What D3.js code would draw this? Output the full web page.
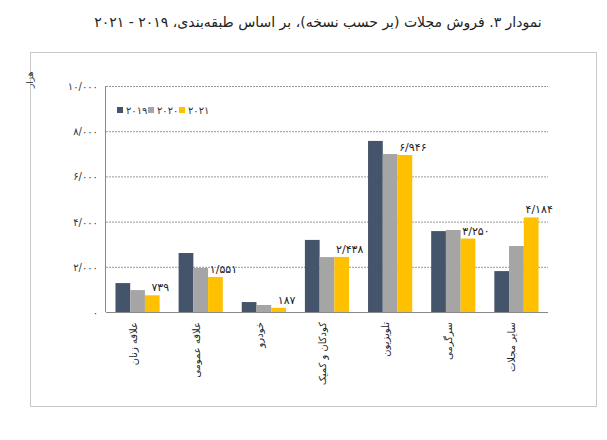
<!DOCTYPE html>
<html><head><meta charset="utf-8">
<script src="https://cdn.jsdelivr.net/npm/d3@7"></script>
<style>body{margin:0;background:#fff;font-family:"DejaVu Sans",sans-serif}</style>
</head><body>
<script>
var categories = ["علاقه زنان","علاقه عمومی","خودرو","کودکان و کمیک","تلویزیون","سرگرمی","سایر مجلات"];
var years = ["2019","2020","2021"];
var v2019 = [1280,2610,440,3190,7570,3580,1810];
var v2020 = [970,1950,310,2430,6990,3630,2920];
var v2021 = [739,1551,187,2438,6946,3250,4184];
var ticks = [0,2000,4000,6000,8000,10000];
var colors = ["#44546a","#a5a5a5","#ffc000"];
var series = [v2019,v2020,v2021];

function digits(s){
    return String(s).replace(/[0-9]/g, function(d){ return "۰۱۲۳۴۵۶۷۸۹"[+d]; });
}
function fa(n){
    return digits(d3.format(",")(n).replace(/,/g,"/"));
}

var svg = d3.select("body").append("svg").attr("width",607).attr("height",440)

svg.append("text").attr("x",318).attr("y",27).attr("text-anchor","middle")
    .attr("font-size",14).attr("fill","#222")
    .text("نمودار ۳. فروش مجلات (بر حسب نسخه)، بر اساس طبقه‌بندی، " + digits(2019) + " - " + digits(2021))

svg.append("rect").attr("x",30.5).attr("y",52.5).attr("width",566).attr("height",354)
    .attr("fill","none").attr("stroke","#c8c8c8")

var x = d3.scaleBand().domain(categories).range([106,548]).paddingInner(0.3).paddingOuter(0.15)
var xs = d3.scaleBand().domain(years).range([0,x.bandwidth()])
var y = d3.scaleLinear().domain([0,10000]).range([312,86])

svg.append("g").selectAll("line").data(ticks.slice(1)).join("line")
    .attr("x1",106).attr("x2",548).attr("y1",d=>y(d)+0.5).attr("y2",d=>y(d)+0.5)
    .attr("stroke","#999").attr("stroke-dasharray","2,1")

svg.append("g").selectAll("text").data(ticks).join("text")
    .attr("x",98).attr("y",d=>y(d)+4).attr("text-anchor","end")
    .attr("font-size",10).attr("fill","#333").text(d=>fa(d))

svg.append("line").attr("x1",105.5).attr("x2",105.5).attr("y1",86).attr("y2",312).attr("stroke","#888")

series.forEach(function(vals,i){
    svg.append("g").selectAll("rect").data(vals).join("rect")
        .attr("x",(d,j)=>x(categories[j])+xs(years[i]))
        .attr("y",d=>y(d)).attr("width",xs.bandwidth()).attr("height",d=>y(0)-y(d))
        .attr("fill",colors[i])
})

svg.append("line").attr("x1",106).attr("x2",548).attr("y1",312.5).attr("y2",312.5).attr("stroke","#888")

svg.append("g").selectAll("text").data(v2021).join("text")
    .attr("x",(d,j)=>x(categories[j])+xs("2021")+xs.bandwidth()/2+8)
    .attr("y",d=>y(d)-4).attr("text-anchor","middle")
    .attr("font-size",11).attr("fill","#222").text(d=>fa(d))

svg.append("g").selectAll("text").data(categories).join("text")
    .attr("transform",d=>"translate("+(x(d)+x.bandwidth()/2-4)+",322) rotate(-90)")
    .attr("font-size",10).attr("fill","#222").attr("dominant-baseline","middle")
    .attr("text-anchor","end").text(d=>d)

svg.append("text").attr("transform","translate(33,88) rotate(-90)")
    .attr("font-size",9).attr("fill","#333").text("هزار")

var lg = svg.append("g").attr("transform","translate(117,110)")
years.forEach(function(yr,i){
    lg.append("rect").attr("x",i*31).attr("y",-3).attr("width",6).attr("height",6).attr("fill",colors[i])
    lg.append("text").attr("x",i*31+9).attr("y",4).attr("font-size",10).attr("fill","#333").text(digits(yr))
})
</script>
</body></html>
